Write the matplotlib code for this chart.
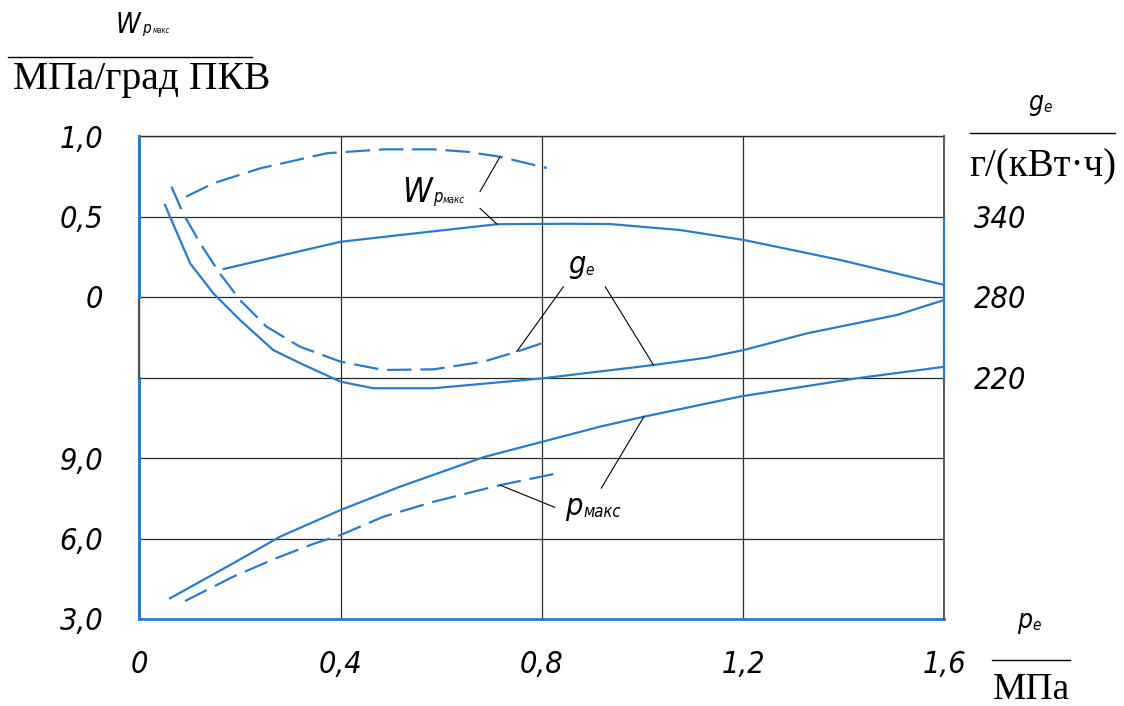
import matplotlib
matplotlib.use("Agg")
import matplotlib.pyplot as plt
from matplotlib import font_manager as fm
from matplotlib.lines import Line2D

# --- data ---
# W_pmax (MPa/deg CA), left upper scale
pe_w = [0.168, 0.28, 0.40, 0.55, 0.711, 0.85, 0.936, 1.075, 1.202, 1.393, 1.6]
w_solid = [0.174, 0.256, 0.343, 0.396, 0.452, 0.455, 0.453, 0.416, 0.354, 0.23, 0.075]
pe_w_dash = [0.093, 0.147, 0.240, 0.373, 0.485, 0.585, 0.651, 0.717, 0.810]
w_dash = [0.623, 0.706, 0.799, 0.893, 0.917, 0.917, 0.902, 0.871, 0.801]

# g_e (g/(kW*h)), right scale
pe_g = [0.051, 0.101, 0.147, 0.200, 0.266, 0.320, 0.400, 0.465, 0.585,
        0.802, 1.022, 1.128, 1.202, 1.327, 1.506, 1.6]
g_solid = [348.6, 305.1, 282.8, 262.9, 240.5, 230.6, 216.9, 212.0, 212.0,
           219.4, 229.3, 234.8, 240.5, 252.9, 266.6, 277.8]
pe_g_dash = [0.064, 0.087, 0.121, 0.160, 0.200, 0.253, 0.319, 0.400, 0.485,
             0.585, 0.684, 0.750, 0.803]
g_dash = [362.2, 342.4, 320.0, 297.6, 277.8, 257.9, 243.0, 231.8, 225.6,
          226.1, 231.8, 239.2, 245.9]

# p_max (MPa), left lower scale
pe_p = [0.061, 0.187, 0.280, 0.400, 0.518, 0.684, 0.802, 0.916, 1.003, 1.194, 1.426, 1.6]
p_solid = [3.77, 5.08, 6.07, 7.06, 7.93, 9.03, 9.61, 10.17, 10.54, 11.29, 11.97, 12.40]
pe_p_dash = [0.091, 0.187, 0.266, 0.346, 0.400, 0.485, 0.585, 0.717, 0.823]
p_dash = [3.67, 4.58, 5.22, 5.80, 6.13, 6.81, 7.37, 7.99, 8.40]

x_ticks = [0, 0.4, 0.8, 1.2, 1.6]
x_labels = ["0", "0,4", "0,8", "1,2", "1,6"]
w_ticks = [0, 0.5, 1.0]
w_labels = ["0", "0,5", "1,0"]
g_ticks = [220, 280, 340]
g_labels = ["220", "280", "340"]
p_ticks = [3, 6, 9, 12, 15, 18, 21]
p_labels = ["3,0", "6,0", "9,0", "", "", "", ""]

BLUE = "#2a7cc7"
GRID = "#2b2b2b"
SERIF = "Liberation Serif"


def pick_gost():
    # narrow italic face, closest thing to the drafting font
    found = []
    for f in fm.fontManager.ttflist:
        st = f.stretch
        narrow = ("Narrow" in f.name or "Condensed" in f.name
                  or st in ("condensed", "semi-condensed", "extra-condensed")
                  or (isinstance(st, int) and st < 500))
        w = f.weight if isinstance(f.weight, int) else (700 if "bold" in str(f.weight) else 400)
        if narrow and f.style in ("italic", "oblique") and w < 600:
            found.append((abs(w - 350), f.fname))
    if found:
        found.sort()
        return fm.FontProperties(fname=found[0][1])
    return fm.FontProperties(family="Roboto", style="italic", weight=300)


GOST = pick_gost()


def gfont(size):
    fp = GOST.copy()
    fp.set_size(size)
    return fp


W, H = 1124, 706
fig = plt.figure(figsize=(W / 100, H / 100), dpi=100)
ax = fig.add_axes([139.3 / W, (H - 619) / H, (944.3 - 139.3) / W, (619 - 136) / H])

# lower-left scale p_max, also carries the grid
ax.set_xlim(0, 1.6)
ax.set_ylim(3, 21)
ax.set_xticks(x_ticks)
ax.set_xticklabels(x_labels, fontproperties=gfont(22))
ax.set_yticks(p_ticks)
ax.set_yticklabels(p_labels, fontproperties=gfont(22))
ax.tick_params(length=0)
ax.tick_params(axis="x", pad=22)
ax.tick_params(axis="y", pad=26)
ax.grid(True, color=GRID, lw=0.9)
for s in ["left", "right"]:
    ax.spines[s].set_visible(False)
ax.spines["top"].set_color(GRID)
ax.spines["top"].set_linewidth(1.0)
ax.spines["bottom"].set_color(BLUE)
ax.spines["bottom"].set_linewidth(2.0)

# frame pieces, blue and grey as in the drawing
ax.axvline(0, 0, 0.5, color=BLUE, lw=2.2, clip_on=False, zorder=5)
ax.axvline(0, 0.5, 4 / 6, color="#555555", lw=1.6, clip_on=False, zorder=5)
ax.axvline(0, 4 / 6, 1, color=BLUE, lw=2.2, clip_on=False, zorder=5)
ax.axvline(1.6, 0, 0.5, color="#555555", lw=1.4, clip_on=False, zorder=5)
ax.axvline(1.6, 0.5, 5 / 6, color=BLUE, lw=1.6, clip_on=False, zorder=5)
ax.axvline(1.6, 5 / 6, 1, color="#555555", lw=1.4, clip_on=False, zorder=5)

# upper-left scale W_pmax
axw = ax.twinx()
axw.set_ylim(-2, 1)
axw.yaxis.tick_left()
axw.set_yticks(w_ticks)
axw.set_yticklabels(w_labels, fontproperties=gfont(22))
axw.tick_params(length=0, pad=26)
for s in axw.spines.values():
    s.set_visible(False)

# right scale g_e
axg = ax.twinx()
axg.set_ylim(40, 400)
axg.set_yticks(g_ticks)
axg.set_yticklabels(g_labels, fontproperties=gfont(22))
axg.tick_params(length=0, pad=21)
for s in axg.spines.values():
    s.set_visible(False)

dash = (11, 4)
axw.plot(pe_w, w_solid, color=BLUE, lw=1.6)
axw.plot(pe_w_dash, w_dash, color=BLUE, lw=1.6, dashes=dash)
axg.plot(pe_g, g_solid, color=BLUE, lw=1.6)
axg.plot(pe_g_dash, g_dash, color=BLUE, lw=1.6, dashes=dash)
ax.plot(pe_p, p_solid, color=BLUE, lw=1.6)
ax.plot(pe_p_dash, p_dash, color=BLUE, lw=1.6, dashes=dash)


def fx(px):
    return px / W


def fy(py):
    return 1 - py / H


def symbol(axis, x, y, main, size, subs):
    # main letter in data coords, subscripts shifted in pixels from it
    axis.text(x, y, main, fontproperties=gfont(size), ha="left", va="baseline")
    for txt, sz, dx, dy in subs:
        axis.annotate(txt, xy=(x, y), xytext=(dx, dy), textcoords="offset pixels",
                      fontproperties=gfont(sz), ha="left", va="baseline")


def fsymbol(px, py, main, size, subs):
    fig.text(fx(px), fy(py), main, fontproperties=gfont(size), ha="left", va="baseline")
    for txt, sz, dx, dy in subs:
        fig.text(fx(px + dx), fy(py - dy), txt, fontproperties=gfont(sz),
                 ha="left", va="baseline")


# curve labels with leader lines
lead = dict(arrowstyle="-", color="black", lw=0.8, shrinkA=0, shrinkB=0)
symbol(axw, 0.522, 0.590, "W", 24, [("p", 12, 31, 0), ("макс", 7, 41, -1)])
axw.annotate("", xy=(pe_w_dash[7], w_dash[7]), xytext=(0.677, 0.654), arrowprops=lead)
axw.annotate("", xy=(pe_w[4], w_solid[4]), xytext=(0.677, 0.551), arrowprops=lead)

symbol(axg, 0.852, 297.9, "g", 22, [("e", 11, 17, -2)])
axg.annotate("", xy=(pe_g_dash[11], g_dash[11]), xytext=(0.843, 287.7), arrowprops=lead)
axg.annotate("", xy=(pe_g[10], g_solid[10]), xytext=(0.926, 287.7), arrowprops=lead)

symbol(ax, 0.846, 6.88, "p", 22, [("макс", 12, 18, -2)])
ax.annotate("", xy=(pe_p_dash[7], p_dash[7]), xytext=(0.826, 7.16), arrowprops=lead)
ax.annotate("", xy=(pe_p[8], p_solid[8]), xytext=(0.918, 7.87), arrowprops=lead)

# axis headings as fractions
fsymbol(116, 33, "W", 20, [("p", 11, 26, 0), ("макс", 5.5, 37, 0)])
fig.add_artist(Line2D([fx(8), fx(252)], [fy(57), fy(57)], color="black", lw=1.0))
fig.text(fx(142), fy(89), "МПа/град ПКВ", family=SERIF, fontsize=28.5, ha="center", va="baseline")

fsymbol(1028, 110, "g", 19, [("e", 11, 15, -2)])
fig.add_artist(Line2D([fx(970), fx(1115)], [fy(133), fy(133)], color="black", lw=1.0))
fig.text(fx(1043), fy(176), "г/(кВт·ч)", family=SERIF, fontsize=28, ha="center", va="baseline")

fsymbol(1017, 628, "p", 19, [("e", 11, 15, -2)])
fig.add_artist(Line2D([fx(992), fx(1070)], [fy(660), fy(660)], color="black", lw=1.0))
fig.text(fx(1031), fy(699), "МПа", family=SERIF, fontsize=27, ha="center", va="baseline")

fig.savefig("out.png", dpi=100)
